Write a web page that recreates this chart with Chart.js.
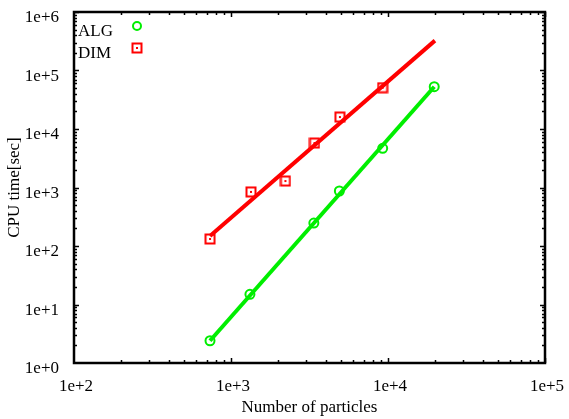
<!DOCTYPE html>
<html>
<head>
<meta charset="utf-8">
<script src="https://cdn.jsdelivr.net/npm/chart.js@4.4.1/dist/chart.umd.min.js"></script>
<style>
  body { margin: 0; background: #fff; }
  canvas { display: block; }
</style>
</head>
<body>
<canvas id="cpuChart" width="569" height="419"></canvas>
<script>
// measured points
const particlesAlg = [735, 1320, 3370, 4900, 9250, 19700];
const cpuAlg = [2.4, 14.9, 247, 871, 4680, 52800];
const particlesDim = [735, 1340, 2220, 3400, 4940, 9250];
const cpuDim = [132, 840, 1290, 5760, 16000, 50800];

// fitted lines (end points)
const fitAlgX = [735, 19700];
const fitAlgY = [2.4, 52800];
const fitDimX = [735, 19900];
const fitDimY = [148, 324000];

// axis labels
const xTicks = [1e2, 1e3, 1e4, 1e5];
const yTicks = [1e0, 1e1, 1e2, 1e3, 1e4, 1e5, 1e6];

const GREEN = "#00ee00";
const RED = "#ff0000";
const FONT = { family: "'Liberation Serif', 'Times New Roman', serif", size: 17 };

function pairs(xs, ys) {
  return xs.map((x, i) => ({ x: x, y: ys[i] }));
}

function fmtPow(v) {
  return "1e+" + Math.round(Math.log10(v));
}

// square marker with the little centre dot
function squareMarker() {
  const c = document.createElement("canvas");
  c.width = 12;
  c.height = 12;
  const g = c.getContext("2d");
  g.strokeStyle = RED;
  g.lineWidth = 2;
  g.strokeRect(1.5, 1.5, 9, 9);
  g.fillStyle = RED;
  g.fillRect(5, 5, 2, 2);
  return c;
}
const sqImg = squareMarker();

// keep the plot box where the original has it
function noPad(s) {
  s.paddingTop = 0;
  s.paddingBottom = 0;
  s.paddingLeft = 0;
  s.paddingRight = 0;
}

// inside tick marks + frame
const framePlugin = {
  id: "frame",
  afterDatasetsDraw(chart) {
    const ctx = chart.ctx;
    const a = chart.chartArea;
    const xs = chart.scales.x;
    const ys = chart.scales.y;
    ctx.save();
    ctx.strokeStyle = "#000";
    ctx.lineWidth = 1.5;
    ctx.beginPath();
    for (let d = 2; d <= 5; d++) {
      for (let k = 1; k <= 9; k++) {
        const v = k * Math.pow(10, d);
        if (v > 1e5 || (k === 1 && d === 2)) continue;
        const p = Math.round(xs.getPixelForValue(v)) + 0.5;
        const len = k === 1 ? 5 : 3;
        ctx.moveTo(p, a.bottom); ctx.lineTo(p, a.bottom - len);
        ctx.moveTo(p, a.top); ctx.lineTo(p, a.top + len);
      }
    }
    for (let d = 0; d <= 6; d++) {
      for (let k = 1; k <= 9; k++) {
        const v = k * Math.pow(10, d);
        if (v > 1e6 || (k === 1 && d === 0)) continue;
        const p = Math.round(ys.getPixelForValue(v)) + 0.5;
        const len = k === 1 ? 5 : 3;
        ctx.moveTo(a.left, p); ctx.lineTo(a.left + len, p);
        ctx.moveTo(a.right, p); ctx.lineTo(a.right - len, p);
      }
    }
    ctx.stroke();
    ctx.lineWidth = 2.5;
    ctx.strokeRect(a.left, a.top, a.right - a.left, a.bottom - a.top);
    ctx.restore();
  }
};

// legend: text then marker, like the original
const keyPlugin = {
  id: "key",
  afterDraw(chart) {
    const ctx = chart.ctx;
    ctx.save();
    ctx.font = FONT.size + "px " + FONT.family;
    ctx.fillStyle = "#000";
    ctx.textBaseline = "middle";
    ctx.textAlign = "left";
    ctx.fillText("ALG", 78, 32);
    ctx.fillText("DIM", 78, 54);
    ctx.strokeStyle = GREEN;
    ctx.lineWidth = 2;
    ctx.beginPath();
    ctx.arc(137, 26, 4, 0, Math.PI * 2);
    ctx.stroke();
    ctx.drawImage(sqImg, 131, 42);
    ctx.restore();
  }
};

const ctx = document.getElementById("cpuChart").getContext("2d");

new Chart(ctx, {
  type: "scatter",
  data: {
    datasets: [
      {
        label: "ALG",
        data: pairs(particlesAlg, cpuAlg),
        pointStyle: "circle",
        pointRadius: 4.5,
        borderWidth: 2,
        borderColor: GREEN,
        backgroundColor: "rgba(0,0,0,0)",
        order: 0
      },
      {
        label: "DIM",
        data: pairs(particlesDim, cpuDim),
        pointStyle: sqImg,
        borderColor: RED,
        order: 0
      },
      {
        label: "ALG fit",
        data: pairs(fitAlgX, fitAlgY),
        showLine: true,
        pointRadius: 0,
        borderColor: GREEN,
        borderWidth: 4,
        order: 1
      },
      {
        label: "DIM fit",
        data: pairs(fitDimX, fitDimY),
        showLine: true,
        pointRadius: 0,
        borderColor: RED,
        borderWidth: 4,
        order: 1
      }
    ]
  },
  options: {
    responsive: false,
    animation: false,
    layout: { padding: { left: 0, top: 12, right: 24, bottom: 0 } },
    plugins: {
      legend: { display: false },
      tooltip: { enabled: false }
    },
    scales: {
      x: {
        type: "logarithmic",
        position: "bottom",
        min: 1e2,
        max: 1e5,
        afterBuildTicks: s => { s.ticks = xTicks.map(v => ({ value: v })); },
        afterFit: s => { s.height = 56; noPad(s); },
        grid: { display: false },
        border: { display: false },
        ticks: {
          color: "#000",
          font: FONT,
          padding: 5,
          labelOffset: 2,
          maxRotation: 0,
          autoSkip: false,
          callback: v => fmtPow(v)
        },
        title: {
          display: true,
          text: "Number of particles",
          color: "#000",
          font: FONT,
          padding: { top: 0, bottom: 1 }
        }
      },
      y: {
        type: "logarithmic",
        min: 1e0,
        max: 1e6,
        afterBuildTicks: s => { s.ticks = yTicks.map(v => ({ value: v })); },
        afterFit: s => { s.width = 74; noPad(s); },
        grid: { display: false },
        border: { display: false },
        ticks: {
          color: "#000",
          font: FONT,
          padding: 7,
          labelOffset: 6,
          autoSkip: false,
          callback: v => fmtPow(v)
        },
        title: {
          display: true,
          text: "CPU time[sec]",
          color: "#000",
          font: FONT,
          padding: { top: 4, bottom: 0 }
        }
      }
    }
  },
  plugins: [framePlugin, keyPlugin]
});
</script>
</body>
</html>
